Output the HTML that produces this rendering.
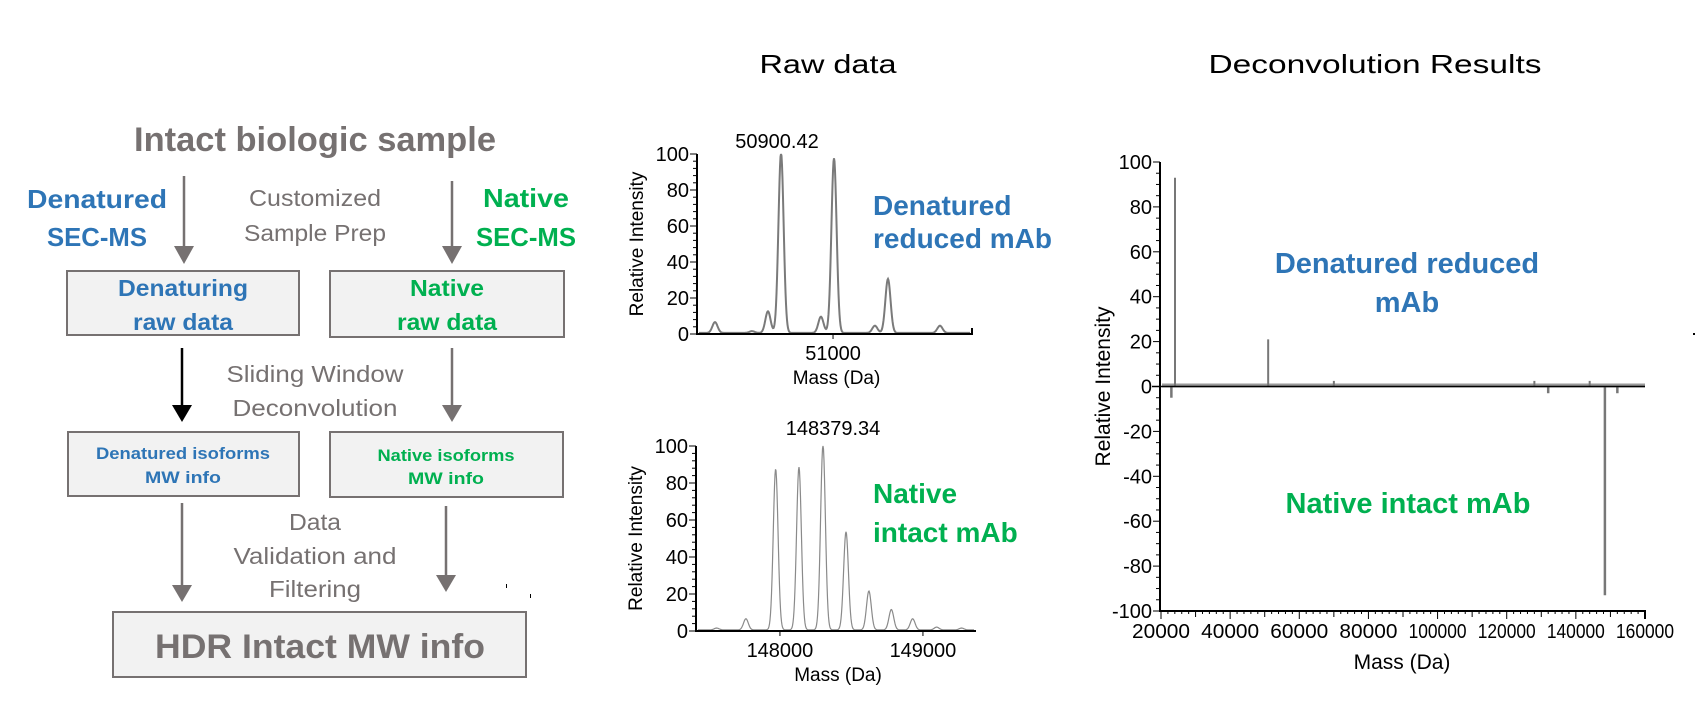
<!DOCTYPE html>
<html><head><meta charset="utf-8"><style>
html,body{margin:0;padding:0;background:#fff;}
svg{display:block;font-family:"Liberation Sans",Arial,sans-serif;}
</style></head><body>
<svg id="fig" width="1697" height="715" viewBox="0 0 1697 715" xmlns="http://www.w3.org/2000/svg">
<g id="flow" font-weight="bold" text-anchor="middle">
  <text x="315" y="151" font-size="34" fill="#767171" textLength="362" lengthAdjust="spacingAndGlyphs">Intact biologic sample</text>
  <text x="97" y="208" font-size="26" fill="#2e75b6" textLength="140" lengthAdjust="spacingAndGlyphs">Denatured</text>
  <text x="97" y="246" font-size="26" fill="#2e75b6" textLength="100" lengthAdjust="spacingAndGlyphs">SEC-MS</text>
  <text x="526" y="207" font-size="26" fill="#00b050" textLength="86" lengthAdjust="spacingAndGlyphs">Native</text>
  <text x="526" y="246" font-size="26" fill="#00b050" textLength="100" lengthAdjust="spacingAndGlyphs">SEC-MS</text>
  <g font-weight="normal" fill="#767171" font-size="23">
    <text x="315" y="206" textLength="132" lengthAdjust="spacingAndGlyphs">Customized</text>
    <text x="315" y="241" textLength="142" lengthAdjust="spacingAndGlyphs">Sample Prep</text>
    <text x="315" y="382" textLength="177" lengthAdjust="spacingAndGlyphs">Sliding Window</text>
    <text x="315" y="416" textLength="165" lengthAdjust="spacingAndGlyphs">Deconvolution</text>
    <text x="315" y="530" textLength="52" lengthAdjust="spacingAndGlyphs">Data</text>
    <text x="315" y="564" textLength="163" lengthAdjust="spacingAndGlyphs">Validation and</text>
    <text x="315" y="597" textLength="92" lengthAdjust="spacingAndGlyphs">Filtering</text>
  </g>
  <g stroke="#767171" stroke-width="2" fill="#f2f2f2">
    <rect x="67" y="271" width="232" height="64"/>
    <rect x="330" y="271" width="234" height="66"/>
    <rect x="68" y="432" width="231" height="64"/>
    <rect x="330" y="432" width="233" height="65"/>
    <rect x="113" y="612" width="413" height="65"/>
  </g>
  <text x="183" y="296" font-size="23" fill="#2e75b6" textLength="130" lengthAdjust="spacingAndGlyphs">Denaturing</text>
  <text x="183" y="330" font-size="23" fill="#2e75b6" textLength="100" lengthAdjust="spacingAndGlyphs">raw data</text>
  <text x="447" y="296" font-size="23" fill="#00b050" textLength="74" lengthAdjust="spacingAndGlyphs">Native</text>
  <text x="447" y="330" font-size="23" fill="#00b050" textLength="100" lengthAdjust="spacingAndGlyphs">raw data</text>
  <text x="183" y="459" font-size="17" fill="#2e75b6" textLength="174" lengthAdjust="spacingAndGlyphs">Denatured isoforms</text>
  <text x="183" y="483" font-size="17" fill="#2e75b6" textLength="76" lengthAdjust="spacingAndGlyphs">MW info</text>
  <text x="446" y="461" font-size="17" fill="#00b050" textLength="137" lengthAdjust="spacingAndGlyphs">Native isoforms</text>
  <text x="446" y="484" font-size="17" fill="#00b050" textLength="76" lengthAdjust="spacingAndGlyphs">MW info</text>
  <text x="320" y="658" font-size="34" fill="#767171" textLength="330" lengthAdjust="spacingAndGlyphs">HDR Intact MW info</text>
  <g stroke="#767171" stroke-width="2.5">
    <line x1="184" y1="176" x2="184" y2="250"/>
    <line x1="452" y1="181" x2="452" y2="250"/>
    <line x1="452" y1="348" x2="452" y2="408"/>
    <line x1="182" y1="503" x2="182" y2="588"/>
    <line x1="446" y1="506" x2="446" y2="578"/>
  </g>
  <g fill="#767171">
    <path d="M174,246 L194,246 L184,264 Z"/>
    <path d="M442,246 L462,246 L452,264 Z"/>
    <path d="M442,405 L462,405 L452,422 Z"/>
    <path d="M172,585 L192,585 L182,602 Z"/>
    <path d="M436,575 L456,575 L446,592 Z"/>
  </g>
  <line x1="182" y1="348" x2="182" y2="408" stroke="#000" stroke-width="2.5"/>
  <path d="M172,405 L192,405 L182,422 Z" fill="#000"/>
  <rect x="506" y="584" width="1" height="4" fill="#000"/>
  <rect x="530" y="594" width="1" height="4" fill="#000"/>
</g>
<text x="828" y="73" font-size="26" text-anchor="middle" textLength="137" lengthAdjust="spacingAndGlyphs">Raw data</text>
<text x="1375" y="73" font-size="26" text-anchor="middle" textLength="333" lengthAdjust="spacingAndGlyphs">Deconvolution Results</text>
<g id="c1"></g>
<g id="c2"></g>
<g id="c3"></g>
</svg>
<script>
// Chart 1: denatured reduced mAb raw data
const c1Masses = [50639, 50752, 50801, 50841, 50963, 51003, 51128, 51168, 51327];
const c1Heights = [6, 1, 12, 100, 9, 97, 4, 30, 4];
const c1XTicks = [51000];
const c1XLabels = ["51000"];
// Chart 2: native intact mAb raw data
const c2Masses = [147557, 147762, 147970, 148133, 148301, 148462, 148622, 148779, 148928, 149096, 149270];
const c2Heights = [1, 6, 87, 88, 100, 53, 21, 11, 6, 1.5, 1];
const c2XTicks = [148000, 149000];
const c2XLabels = ["148000", "149000"];
const rawYTicks = [0, 20, 40, 60, 80, 100];
// Chart 3: deconvolution (mirror plot)
const c3PosMasses = [24050, 51000, 70000, 128000, 144000];
const c3PosHeights = [93, 21, 2.5, 2.5, 2.5];
const c3NegMasses = [23000, 148400, 132000, 152000];
const c3NegHeights = [-5, -93, -3, -3];
const c3XTicks = [20000, 40000, 60000, 80000, 100000, 120000, 140000, 160000];
const c3YTicks = [-100, -80, -60, -40, -20, 0, 20, 40, 60, 80, 100];

const NS = "http://www.w3.org/2000/svg";
function mk(parent, tag, attrs, txt) {
  const e = document.createElementNS(NS, tag);
  for (const k in attrs) e.setAttribute(k, attrs[k]);
  if (txt !== undefined) e.textContent = txt;
  parent.appendChild(e);
  return e;
}
function lin(d0, d1, r0, r1) { return v => r0 + (v - d0) / (d1 - d0) * (r1 - r0); }

function rawChart(g, cfg) {
  const x = lin(cfg.xd[0], cfg.xd[1], cfg.x0, cfg.x1);
  const y = lin(0, 100, cfg.y0, cfg.y100);
  let d = "";
  for (let px = cfg.x0 + 2; px <= cfg.x1 - 2; px += 0.5) {
    let v = 0.6;
    for (let i = 0; i < cfg.masses.length; i++) {
      const dx = px - x(cfg.masses[i]);
      v += cfg.heights[i] * Math.exp(-dx * dx / (2 * cfg.sig * cfg.sig));
    }
    d += (d ? "L" : "M") + px.toFixed(1) + "," + y(Math.min(v, 100)).toFixed(1);
  }
  const p = mk(g, "path", {d: d, fill: "none", stroke: cfg.col, "stroke-width": cfg.sw});
  
  
  const ax = mk(g, "path", {d: `M${cfg.x0},${cfg.y100} L${cfg.x0},${cfg.y0} L${cfg.x1},${cfg.y0}` + (cfg.rightTick ? ` L${cfg.x1},${cfg.y0 - 6}` : ""), fill: "none", stroke: "#000", "stroke-width": 2});
  
  
  for (let v = 0; v <= 100; v += 4) {
    const t = mk(g, "line", {x1: cfg.x0 - (v % 20 === 0 ? 7 : 4), x2: cfg.x0, y1: y(v), y2: y(v), stroke: "#000", "stroke-width": 1});
    
    
  }
  rawYTicks.forEach(v => {
    const t = mk(g, "text", {x: cfg.x0 - 8, y: y(v) + 7, "font-size": 20, "text-anchor": "end"}, String(v));
    
    
  });
  cfg.xt.forEach((v, i) => {
    const t = mk(g, "line", {x1: x(v), x2: x(v), y1: cfg.y0, y2: cfg.y0 + 5, stroke: "#000"});
    
    
    const l = mk(g, "text", {x: x(v), y: cfg.y0 + 26, "font-size": 20, "text-anchor": "middle"}, cfg.xl[i]);
    
    
  });
  const xt = mk(g, "text", {x: (cfg.x0 + cfg.x1) / 2 + 2, y: cfg.y0 + 50, "font-size": 19, "text-anchor": "middle"}, "Mass (Da)");
  
  
  const yc = (cfg.y0 + cfg.y100) / 2;
  const yt = mk(g, "text", {x: 0, y: 0, "font-size": 19, "text-anchor": "middle", transform: `translate(${cfg.x0 - 54},${yc}) rotate(-90)`}, "Relative Intensity");
  
  
  const pk = mk(g, "text", {x: cfg.pkx, y: cfg.pky, "font-size": 20, "text-anchor": "middle"}, cfg.pkLabel);
  
  
  cfg.lab.forEach((s, i) => {
    const t = mk(g, "text", {x: cfg.labx, y: cfg.laby[i], "font-size": 28, "font-weight": "bold", fill: cfg.labCol}, s);
    
    
  });
}

rawChart(document.getElementById("c1"), {
  xd: [50584, 51425], x0: 697, x1: 972, y0: 334, y100: 154,
  masses: c1Masses, heights: c1Heights, sig: 2.6, col: "#7a7a7a", sw: 2,
  xt: c1XTicks, xl: c1XLabels, rightTick: true,
  pkLabel: "50900.42", pkx: 777, pky: 148,
  lab: ["Denatured", "reduced mAb"], labx: 873, laby: [215, 248], labCol: "#2e75b6"
});
rawChart(document.getElementById("c2"), {
  xd: [147413, 149371], x0: 696, x1: 976, y0: 631, y100: 446,
  masses: c2Masses, heights: c2Heights, sig: 2.4, col: "#8a8a8a", sw: 1.2,
  xt: c2XTicks, xl: c2XLabels, rightTick: false,
  pkLabel: "148379.34", pkx: 833, pky: 435,
  lab: ["Native", "intact mAb"], labx: 873, laby: [503, 542], labCol: "#00b050"
});

(function () {
  const g = document.getElementById("c3");
  const x0 = 1160, x1 = 1645, yTop = 162, yBot = 611;
  const x = lin(20000, 160000, 1161, 1645);
  const y = lin(-100, 100, yBot, yTop);
  const base = mk(g, "rect", {x: 1162, y: y(0) - 3, width: 483, height: 4, fill: "#9a9a9a"});
  
  
  c3PosMasses.forEach((m, i) => {
    const l = mk(g, "line", {x1: x(m), x2: x(m), y1: y(0), y2: y(c3PosHeights[i]), stroke: "#777", "stroke-width": 2});
    
    
  });
  c3NegMasses.forEach((m, i) => {
    const l = mk(g, "line", {x1: x(m), x2: x(m), y1: y(0), y2: y(c3NegHeights[i]), stroke: "#777", "stroke-width": 2.5});
    
    
  });
  const ax = mk(g, "path", {d: `M${x0},${yTop} L${x0},${yBot} L${x1},${yBot} L${x1},${yBot + 8}`, fill: "none", stroke: "#000", "stroke-width": 2});
  
  
  const zl = mk(g, "line", {x1: x0 - 8, x2: x1, y1: y(0), y2: y(0), stroke: "#000", "stroke-width": 1.5});
  
  
  for (let v = -100; v <= 100; v += 5) {
    const t = mk(g, "line", {x1: x0 - (v % 20 === 0 ? 7 : 4), x2: x0, y1: y(v), y2: y(v), stroke: "#000"});
    
    
  }
  c3YTicks.forEach(v => {
    const t = mk(g, "text", {x: x0 - 8, y: y(v) + 7, "font-size": 20, "text-anchor": "end"}, String(v));
    
    
  });
  for (let v = 20000; v <= 160000; v += 2000) {
    const t = mk(g, "line", {x1: x(v), x2: x(v), y1: yBot, y2: yBot + (v % 20000 === 0 ? 8 : (v % 10000 === 0 ? 6 : 3)), stroke: "#000"});
    
    
  }
  c3XTicks.forEach(v => {
    const t = mk(g, "text", {x: x(v), y: 638, "font-size": 20, "text-anchor": "middle", textLength: 58, lengthAdjust: "spacingAndGlyphs"}, String(v));
    
    
  });
  const xt = mk(g, "text", {x: 1402, y: 669, "font-size": 21, "text-anchor": "middle"}, "Mass (Da)");
  
  
  const yt = mk(g, "text", {x: 0, y: 0, "font-size": 21, "text-anchor": "middle", transform: `translate(1110,${(yTop + yBot) / 2}) rotate(-90)`}, "Relative Intensity");
  
  
  const a = mk(g, "text", {x: 1407, y: 273, "font-size": 29, "font-weight": "bold", fill: "#2e75b6", "text-anchor": "middle"}, "Denatured reduced");
  
  
  const b = mk(g, "text", {x: 1407, y: 312, "font-size": 29, "font-weight": "bold", fill: "#2e75b6", "text-anchor": "middle"}, "mAb");
  
  
  const c = mk(g, "text", {x: 1408, y: 513, "font-size": 29, "font-weight": "bold", fill: "#00b050", "text-anchor": "middle"}, "Native intact mAb");
  
  
  const dt = mk(g, "rect", {x: 1693, y: 333, width: 2, height: 2, fill: "#000"});
  
  
})();
</script>
</body></html>
